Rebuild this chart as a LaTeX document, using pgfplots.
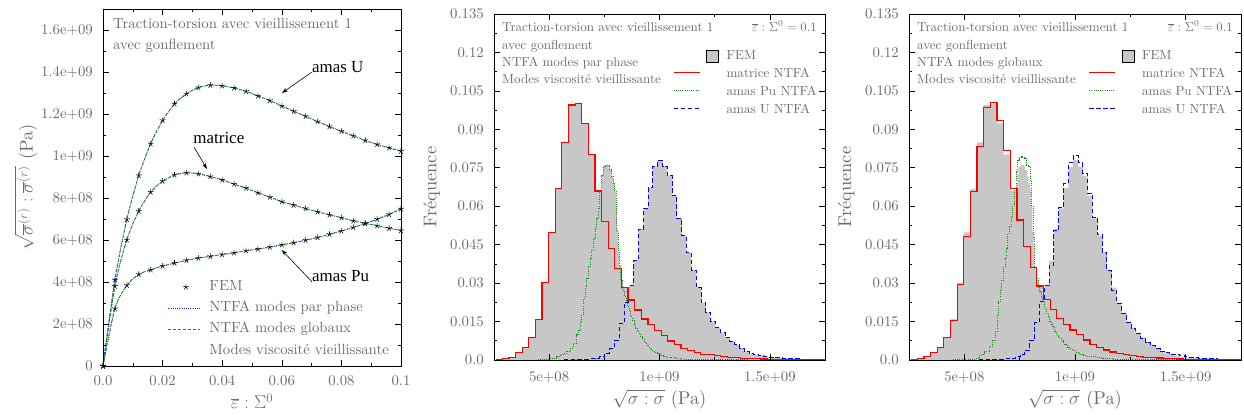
\RequirePackage{fix-cm}
\documentclass[border=0pt]{standalone}
\usepackage[no-math]{fontspec}
\setmainfont{lmroman10-regular.otf}[ItalicFont=lmroman10-italic.otf, BoldFont=lmroman10-bold.otf]
\usepackage{pgfplots}
\pgfplotsset{compat=1.18}
\usepackage{pgfplotstable}
\usetikzlibrary{arrows.meta}

\newfontfamily\annotfont{Liberation Serif}
\newcommand\fA{\fontsize{14.8}{17}\selectfont}
\newcommand\fB{\fontsize{13.1}{15}\selectfont}
\newcommand\fL{\fontsize{18.5}{21}\selectfont}

\definecolor{txt}{gray}{0.42}
\definecolor{fem}{gray}{0.78}
\definecolor{ntfagreen}{rgb}{0.1,0.55,0.1}
\definecolor{ntfablue}{rgb}{0.1,0.1,1}

\pgfplotsset{
  panel/.style={
    scale only axis, anchor=south west, axis on top,
    tick align=inside,
    major tick length=6bp, minor tick length=3bp,
    every tick/.style={black, line width=0.6bp},
    axis line style={black, line width=0.8bp},
    tick label style={font=\fA, text=txt, inner sep=0pt},
    yticklabel style={anchor=east, xshift=-10bp},
    label style={font=\fL, text=txt, inner sep=0pt},
    scaled ticks=false,
    legend cell align=left,
  },
  histo/.style={
    xmin=2.5e8, xmax=1.75e9, ymin=0, ymax=0.135,
    xtick={5e8,1e9,1.5e9}, xticklabels={5e+08,1e+09,1.5e+09},
    minor xtick={7.5e8,1.25e9},
    xticklabel style={anchor=north, yshift=-11bp},
    ytick={0,0.015,0.03,0.045,0.06,0.075,0.09,0.105,0.12,0.135},
    yticklabels={0.0,0.015,0.03,0.045,0.06,0.075,0.09,0.105,0.12,0.135},
    minor ytick={0.0075,0.0225,0.0375,0.0525,0.0675,0.0825,0.0975,0.1125,0.1275},
    xlabel={$\sqrt{\sigma : \sigma}$ (Pa)},
    ylabel={Fréquence},
    xlabel style={at={(axis description cs:0.5,-0.1272)}, anchor=base},
    ylabel style={at={(axis description cs:-0.1882,0.5)}, anchor=center},
    legend style={at={(0.5408,0.9046)}, draw=none, fill=none, inner sep=0pt, outer sep=0pt,
      row sep=0pt, column sep=0pt, font=\fB, text=txt, anchor=north west,
      nodes={inner sep=0pt, text height=12bp, text depth=6bp, anchor=west}},
  },
  imgA/.style={legend image code/.code={\path[draw=none, fill=none] (0bp,0bp) -- (41bp,0bp);
      \draw[##1] (0bp,0bp) -- (32bp,0bp);}},
  imgAmark/.style={legend image code/.code={\path[draw=none, fill=none] (0bp,0bp) -- (41bp,0bp);
      \draw[mark repeat=2, mark phase=2, ##1] plot coordinates {(0bp,0bp) (17.5bp,0bp) (35bp,0bp)};}},
  imgAnone/.style={legend image code/.code={\path[draw=none, fill=none] (0bp,0bp) -- (41bp,0bp);}},
  imgB/.style={legend image code/.code={\path[draw=none, fill=none] (0bp,0bp) -- (53bp,0bp);
      \draw[##1] (0bp,1.5bp) -- (26bp,1.5bp);}},
  imgBbox/.style={legend image code/.code={\path[draw=none, fill=none] (0bp,0bp) -- (53bp,0bp);
      \draw[fill=fem, draw=black, line width=0.9bp, solid] (33bp,-6bp) rectangle (45bp,6bp);}},
  pline/.style={ntfablue, line width=0.9bp, dash pattern=on 0.8bp off 1.4bp},
  gline/.style={ntfagreen, line width=0.8bp, dash pattern=on 3bp off 2bp},
  fem marks/.style={only marks, mark=star, mark size=3bp, black, mark options={line width=0.55bp}},
  hred/.style={red, line width=1.2bp},
  hgreen/.style={ntfagreen, line width=0.9bp, dash pattern=on 0.8bp off 1.4bp},
  hblue/.style={blue, line width=1bp, dash pattern=on 4.5bp off 2.5bp},
}

% stress curves, first panel
\pgfplotstableread{
x      U        M        P
0      0        0        0
0.004  4.10e8   3.80e8   2.73e8
0.008  6.98e8   6.01e8   3.84e8
0.012  9.07e8   7.37e8   4.36e8
0.016  1.058e9  8.28e8   4.58e8
0.020  1.169e9  8.80e8   4.76e8
0.024  1.248e9  9.10e8   4.90e8
0.028  1.296e9  9.20e8   5.03e8
0.032  1.326e9  9.15e8   5.14e8
0.036  1.337e9  9.02e8   5.22e8
0.040  1.334e9  8.86e8   5.31e8
0.044  1.324e9  8.66e8   5.39e8
0.048  1.308e9  8.47e8   5.49e8
0.052  1.286e9  8.25e8   5.57e8
0.056  1.264e9  8.04e8   5.66e8
0.060  1.238e9  7.83e8   5.77e8
0.064  1.213e9  7.66e8   5.87e8
0.068  1.189e9  7.50e8   5.99e8
0.072  1.164e9  7.34e8   6.12e8
0.076  1.140e9  7.20e8   6.27e8
0.080  1.118e9  7.06e8   6.43e8
0.084  1.096e9  6.91e8   6.60e8
0.088  1.074e9  6.79e8   6.78e8
0.092  1.055e9  6.68e8   6.99e8
0.096  1.039e9  6.56e8   7.22e8
0.100  1.023e9  6.45e8   7.48e8
}\curves

% histograms, "modes par phase" (also used for FEM)
\pgfplotstableread{
x y
2.575e8 0.0002
2.875e8 0.00065
3.175e8 0.0010
3.475e8 0.0029
3.775e8 0.0049
4.075e8 0.0087
4.375e8 0.0159
4.675e8 0.0302
4.975e8 0.0498
5.275e8 0.0669
5.575e8 0.0849
5.875e8 0.0995
6.175e8 0.1001
6.475e8 0.0923
6.775e8 0.0802
7.075e8 0.0659
7.375e8 0.0540
7.675e8 0.0436
7.975e8 0.0358
8.275e8 0.0284
8.575e8 0.0234
8.875e8 0.0195
9.175e8 0.0160
9.475e8 0.0137
9.775e8 0.0115
1.0075e9 0.0095
1.0375e9 0.0074
1.0675e9 0.0059
1.0975e9 0.0046
1.1275e9 0.0036
1.1575e9 0.0030
1.1875e9 0.0023
1.2175e9 0.0020
1.2475e9 0.0016
1.2775e9 0.0013
1.3075e9 0.0011
1.3375e9 0.0009
1.3675e9 0.0007
1.3975e9 0.0006
1.4275e9 0.0005
1.4575e9 0.0004
1.4875e9 0.0003
1.5175e9 0.0003
1.5475e9 0.0002
1.5775e9 0.0002
1.6075e9 0.0002
1.6375e9 0.0001
1.6675e9 0.0001
1.6975e9 0.0001
1.7275e9 0.0001
1.7575e9 0.0001
}\redtwo

\pgfplotstableread{
x y
2.5e8 0
5.559e8 0.0001
6.213e8 0.0002
6.649e8 0.0003
6.867e8 0.0004
7.085e8 0.0006
7.303e8 0.0013
7.521e8 0.0026
7.739e8 0.0043
7.957e8 0.0078
8.175e8 0.0143
8.393e8 0.0225
8.611e8 0.0290
8.829e8 0.0388
9.047e8 0.0511
9.265e8 0.0592
9.483e8 0.0672
9.701e8 0.0754
9.919e8 0.0780
1.0137e9 0.0754
1.0355e9 0.0718
1.0573e9 0.0640
1.0791e9 0.0553
1.1009e9 0.0484
1.1227e9 0.0419
1.1445e9 0.0351
1.1663e9 0.0282
1.1881e9 0.0224
1.2099e9 0.0185
1.2317e9 0.0150
1.2535e9 0.0126
1.2753e9 0.0107
1.2971e9 0.0088
1.3189e9 0.0072
1.3407e9 0.0059
1.3625e9 0.0046
1.3843e9 0.0035
1.4061e9 0.0026
1.4279e9 0.0022
1.4497e9 0.0017
1.4715e9 0.0013
1.4933e9 0.0010
1.5151e9 0.0009
1.5369e9 0.0008
1.5587e9 0.0006
1.5805e9 0.0005
1.6023e9 0.0004
1.6241e9 0.0004
1.6459e9 0.0003
1.6677e9 0.0003
1.6895e9 0.0002
1.7113e9 0.0002
1.7331e9 0.0002
1.7549e9 0.0002
}\bluetwo

\pgfplotstableread{
x y
2.5e8 0
4.5e8 0.0001
4.75e8 0.0003
5.05e8 0.0007
5.35e8 0.0013
5.50e8 0.0020
5.65e8 0.0026
5.80e8 0.0035
5.95e8 0.0046
6.10e8 0.0065
6.25e8 0.0098
6.33e8 0.0117
6.40e8 0.0150
6.48e8 0.0176
6.55e8 0.0241
6.63e8 0.0286
6.70e8 0.0319
6.78e8 0.0364
6.85e8 0.0397
6.93e8 0.0429
7.00e8 0.0475
7.08e8 0.0514
7.15e8 0.0553
7.23e8 0.0592
7.30e8 0.0657
7.38e8 0.0722
7.45e8 0.0754
7.53e8 0.0760
7.60e8 0.0761
7.68e8 0.0759
7.75e8 0.0742
7.83e8 0.0716
7.90e8 0.0690
7.98e8 0.0660
8.03e8 0.0600
8.07e8 0.0500
8.13e8 0.0420
8.18e8 0.0364
8.25e8 0.0312
8.33e8 0.0273
8.40e8 0.0247
8.48e8 0.0228
8.55e8 0.0208
8.63e8 0.0189
8.70e8 0.0169
8.78e8 0.0153
8.85e8 0.0137
8.93e8 0.0124
9.00e8 0.0111
9.08e8 0.0101
9.15e8 0.0091
9.23e8 0.0081
9.30e8 0.0072
9.38e8 0.0063
9.45e8 0.0055
9.53e8 0.0048
9.60e8 0.0042
9.68e8 0.0037
9.75e8 0.0033
9.83e8 0.0029
9.90e8 0.0026
1.005e9 0.0017
1.020e9 0.0013
1.035e9 0.0010
1.050e9 0.0008
1.070e9 0.0006
1.095e9 0.0004
1.170e9 0.0003
1.250e9 0.0001
1.400e9 0
1.760e9 0
}\greentwo

% histograms, "modes globaux"
\pgfplotstableread{
x y
2.575e8 0.0002
2.875e8 0.0007
3.175e8 0.0013
3.475e8 0.0029
3.775e8 0.0049
4.075e8 0.0087
4.375e8 0.0155
4.675e8 0.0295
4.975e8 0.0481
5.275e8 0.0657
5.575e8 0.0832
5.875e8 0.0985
6.175e8 0.1005
6.475e8 0.0933
6.775e8 0.0816
7.075e8 0.0670
7.375e8 0.0546
7.675e8 0.0442
7.975e8 0.0360
8.275e8 0.0289
8.575e8 0.0237
8.875e8 0.0198
9.175e8 0.0163
9.475e8 0.0139
9.775e8 0.0117
1.0075e9 0.0098
1.0375e9 0.0078
1.0675e9 0.0062
1.0975e9 0.0049
1.1275e9 0.0039
1.1575e9 0.0031
1.1875e9 0.0025
1.2175e9 0.0020
1.2475e9 0.0016
1.2775e9 0.0013
1.3075e9 0.0011
1.3375e9 0.0009
1.3675e9 0.0008
1.3975e9 0.0006
1.4275e9 0.0005
1.4575e9 0.0004
1.4875e9 0.0003
1.5175e9 0.0003
1.5475e9 0.0002
1.5775e9 0.0002
1.6075e9 0.0002
1.6375e9 0.0001
1.6675e9 0.0001
1.6975e9 0.0001
1.7275e9 0.0001
1.7575e9 0.0001
}\redthree

\pgfplotstableread{
x y
2.5e8 0
5.559e8 0.0001
6.213e8 0.0002
6.649e8 0.0003
6.867e8 0.0004
7.085e8 0.0007
7.303e8 0.0013
7.521e8 0.0022
7.739e8 0.0039
7.957e8 0.0077
8.175e8 0.0145
8.393e8 0.0228
8.611e8 0.0290
8.829e8 0.0367
9.047e8 0.0507
9.265e8 0.0596
9.483e8 0.0687
9.701e8 0.0770
9.919e8 0.0797
1.0137e9 0.0770
1.0355e9 0.0728
1.0573e9 0.0650
1.0791e9 0.0557
1.1009e9 0.0488
1.1227e9 0.0419
1.1445e9 0.0349
1.1663e9 0.0273
1.1881e9 0.0221
1.2099e9 0.0182
1.2317e9 0.0148
1.2535e9 0.0122
1.2753e9 0.0104
1.2971e9 0.0085
1.3189e9 0.0070
1.3407e9 0.0056
1.3625e9 0.0044
1.3843e9 0.0035
1.4061e9 0.0029
1.4279e9 0.0023
1.4497e9 0.0020
1.4715e9 0.0016
1.4933e9 0.0013
1.5151e9 0.0010
1.5369e9 0.0009
1.5587e9 0.0007
1.5805e9 0.0006
1.6023e9 0.0005
1.6241e9 0.0004
1.6459e9 0.0003
1.6677e9 0.0003
1.6895e9 0.0002
1.7113e9 0.0002
1.7331e9 0.0002
1.7549e9 0.0002
}\bluethree

\pgfplotstableread{
x y
2.5e8 0
4.5e8 0.0001
5.0e8 0.0003
5.46e8 0.0006
5.69e8 0.0020
5.91e8 0.0033
6.14e8 0.0052
6.29e8 0.0078
6.39e8 0.0110
6.48e8 0.0176
6.54e8 0.0228
6.62e8 0.0273
6.69e8 0.0312
6.77e8 0.0364
6.84e8 0.0397
6.92e8 0.0436
6.96e8 0.0494
7.04e8 0.0520
7.11e8 0.0560
7.19e8 0.0605
7.26e8 0.0670
7.34e8 0.0735
7.41e8 0.0780
7.49e8 0.0790
7.56e8 0.0793
7.64e8 0.0790
7.72e8 0.0787
7.79e8 0.0761
7.90e8 0.0754
7.97e8 0.0700
8.03e8 0.0600
8.10e8 0.0480
8.18e8 0.0360
8.25e8 0.0320
8.33e8 0.0286
8.40e8 0.0266
8.48e8 0.0247
8.55e8 0.0225
8.63e8 0.0203
8.70e8 0.0182
8.78e8 0.0165
8.85e8 0.0150
8.93e8 0.0140
9.00e8 0.0130
9.08e8 0.0110
9.16e8 0.0100
9.23e8 0.0091
9.31e8 0.0085
9.38e8 0.0075
9.46e8 0.0068
9.53e8 0.0062
9.61e8 0.0056
9.68e8 0.0050
9.76e8 0.0044
9.83e8 0.0040
9.91e8 0.0036
1.006e9 0.0029
1.021e9 0.0022
1.036e9 0.0017
1.051e9 0.0014
1.066e9 0.0012
1.096e9 0.0009
1.126e9 0.0007
1.170e9 0.0004
1.216e9 0.0003
1.300e9 0.0001
1.450e9 0
1.760e9 0
}\greenthree

\begin{document}
\begin{tikzpicture}
\useasboundingbox (0,0) rectangle (1244bp,415bp);

% ---------------- panel 1 : macroscopic stress per phase
\begin{axis}[panel, at={(103bp,49bp)}, width=298bp, height=357bp,
  xmin=0, xmax=0.1, ymin=0, ymax=1.7e9,
  xtick={0,0.02,0.04,0.06,0.08,0.1},
  xticklabels={0.0,0.02,0.04,0.06,0.08,0.1},
  minor xtick={0.01,0.03,0.05,0.07,0.09},
  xticklabel style={anchor=north, yshift=-9bp},
  ytick={0,2e8,4e8,6e8,8e8,1e9,1.2e9,1.4e9,1.6e9},
  yticklabels={0,2e+08,4e+08,6e+08,8e+08,1e+09,1.2e+09,1.4e+09,1.6e+09},
  minor ytick={1e8,3e8,5e8,7e8,9e8,1.1e9,1.3e9,1.5e9},
  xlabel={$\overline{\varepsilon} : \Sigma^0$},
  ylabel={$\sqrt{\overline{\sigma}^{(r)} : \overline{\sigma}^{(r)}}$ (Pa)},
  xlabel style={at={(axis description cs:0.5,-0.1204)}, anchor=base},
  ylabel style={at={(axis description cs:-0.2584,0.5)}, anchor=center},
  legend style={at={(0.218,0.251)}, anchor=north west, draw=none, fill=none,
    inner sep=0pt, outer sep=0pt, row sep=0pt, column sep=0pt,
    font=\fA, text=txt,
    nodes={inner sep=0pt, text height=14bp, text depth=7.3bp, anchor=west}},
]
\addplot[forget plot, pline, smooth, tension=0.5] table[x=x, y=U]{\curves};
\addplot[forget plot, pline, smooth, tension=0.5] table[x=x, y=M]{\curves};
\addplot[forget plot, pline, smooth, tension=0.5] table[x=x, y=P]{\curves};
\addplot[forget plot, gline, smooth, tension=0.5] table[x=x, y=U]{\curves};
\addplot[forget plot, gline, smooth, tension=0.5] table[x=x, y=M]{\curves};
\addplot[forget plot, gline, smooth, tension=0.5] table[x=x, y=P]{\curves};
\addplot[forget plot, fem marks] table[x=x, y=U]{\curves};
\addplot[forget plot, fem marks] table[x=x, y=M]{\curves};
\addplot[forget plot, fem marks] table[x=x, y=P]{\curves};

\addlegendimage{fem marks, imgAmark}
\addlegendentry{FEM}
\addlegendimage{pline, imgA}
\addlegendentry{NTFA modes par phase}
\addlegendimage{gline, imgA}
\addlegendentry{NTFA modes globaux}
\addlegendimage{imgAnone}
\addlegendentry{Modes viscosité vieillissante}

\node[anchor=base west, inner sep=0pt, font=\fA, text=txt] at (rel axis cs:0.0336,0.946) {Traction-torsion avec vieillissement 1};
\node[anchor=base west, inner sep=0pt, font=\fA, text=txt] at (rel axis cs:0.0336,0.887) {avec gonflement};

\node[anchor=base west, inner sep=0pt, font=\annotfont\fontsize{17}{20}\selectfont] at (rel axis cs:0.701,0.8235) {amas U};
\draw[-{Stealth[length=6bp,width=4bp]}, line width=0.6bp] (rel axis cs:0.701,0.8235) -- (rel axis cs:0.6007,0.7647);
\node[anchor=base west, inner sep=0pt, font=\annotfont\fontsize{17}{20}\selectfont] at (rel axis cs:0.303,0.622) {matrice};
\draw[-{Stealth[length=6bp,width=4bp]}, line width=0.6bp] (rel axis cs:0.3054,0.6134) -- (rel axis cs:0.349,0.5518);
\node[anchor=base west, inner sep=0pt, font=\annotfont\fontsize{17}{20}\selectfont] at (rel axis cs:0.701,0.236) {amas Pu};
\draw[-{Stealth[length=6bp,width=4bp]}, line width=0.6bp] (rel axis cs:0.701,0.236) -- (rel axis cs:0.5997,0.325);
\end{axis}

% ---------------- panel 2 : modes par phase
\begin{axis}[panel, histo, at={(494bp,55bp)}, width=331bp, height=346bp]
\addplot[forget plot, const plot, fill=fem, draw=none] table[x=x,y=y]{\redtwo} \closedcycle;
\addplot[forget plot, const plot, fill=fem, draw=none] table[x=x,y=y]{\bluetwo} \closedcycle;
\addplot[forget plot, const plot, fill=fem, draw=none] table[x=x,y=y]{\greentwo} \closedcycle;
\addplot[forget plot, const plot, hgreen] table[x=x,y=y]{\greentwo};
\addplot[forget plot, const plot, hblue] table[x=x,y=y]{\bluetwo};
\addplot[forget plot, const plot, hred] table[x=x,y=y]{\redtwo};

\addlegendimage{imgBbox}
\addlegendentry{FEM}
\addlegendimage{hred, imgB}
\addlegendentry{matrice NTFA}
\addlegendimage{hgreen, imgB}
\addlegendentry{amas Pu NTFA}
\addlegendimage{hblue, imgB}
\addlegendentry{amas U NTFA}

\node[anchor=base west, inner sep=0pt, font=\fB, text=txt] at (rel axis cs:0.0242,0.9494) {Traction-torsion avec vieillissement 1};
\node[anchor=base west, inner sep=0pt, font=\fB, text=txt] at (rel axis cs:0.0242,0.8988) {avec gonflement};
\node[anchor=base west, inner sep=0pt, font=\fB, text=txt] at (rel axis cs:0.0242,0.8483) {NTFA modes par phase};
\node[anchor=base west, inner sep=0pt, font=\fB, text=txt] at (rel axis cs:0.0242,0.7977) {Modes viscosité vieillissante};
\node[anchor=base east, inner sep=0pt, font=\fB, text=txt] at (rel axis cs:0.9758,0.9494) {$\overline{\varepsilon} : \Sigma^0 = 0.1$};
\end{axis}

% ---------------- panel 3 : modes globaux
\begin{axis}[panel, histo, at={(909bp,55bp)}, width=332bp, height=346bp]
\addplot[forget plot, const plot, fill=fem, draw=none] table[x=x,y=y]{\redtwo} \closedcycle;
\addplot[forget plot, const plot, fill=fem, draw=none] table[x=x,y=y]{\bluetwo} \closedcycle;
\addplot[forget plot, const plot, fill=fem, draw=none] table[x=x,y=y]{\greentwo} \closedcycle;
\addplot[forget plot, const plot, hgreen] table[x=x,y=y]{\greenthree};
\addplot[forget plot, const plot, hblue] table[x=x,y=y]{\bluethree};
\addplot[forget plot, const plot, hred] table[x=x,y=y]{\redthree};

\addlegendimage{imgBbox}
\addlegendentry{FEM}
\addlegendimage{hred, imgB}
\addlegendentry{matrice NTFA}
\addlegendimage{hgreen, imgB}
\addlegendentry{amas Pu NTFA}
\addlegendimage{hblue, imgB}
\addlegendentry{amas U NTFA}

\node[anchor=base west, inner sep=0pt, font=\fB, text=txt] at (rel axis cs:0.0242,0.9494) {Traction-torsion avec vieillissement 1};
\node[anchor=base west, inner sep=0pt, font=\fB, text=txt] at (rel axis cs:0.0242,0.8988) {avec gonflement};
\node[anchor=base west, inner sep=0pt, font=\fB, text=txt] at (rel axis cs:0.0242,0.8483) {NTFA modes globaux};
\node[anchor=base west, inner sep=0pt, font=\fB, text=txt] at (rel axis cs:0.0242,0.7977) {Modes viscosité vieillissante};
\node[anchor=base east, inner sep=0pt, font=\fB, text=txt] at (rel axis cs:0.9758,0.9494) {$\overline{\varepsilon} : \Sigma^0 = 0.1$};
\end{axis}
\end{tikzpicture}
\end{document}
